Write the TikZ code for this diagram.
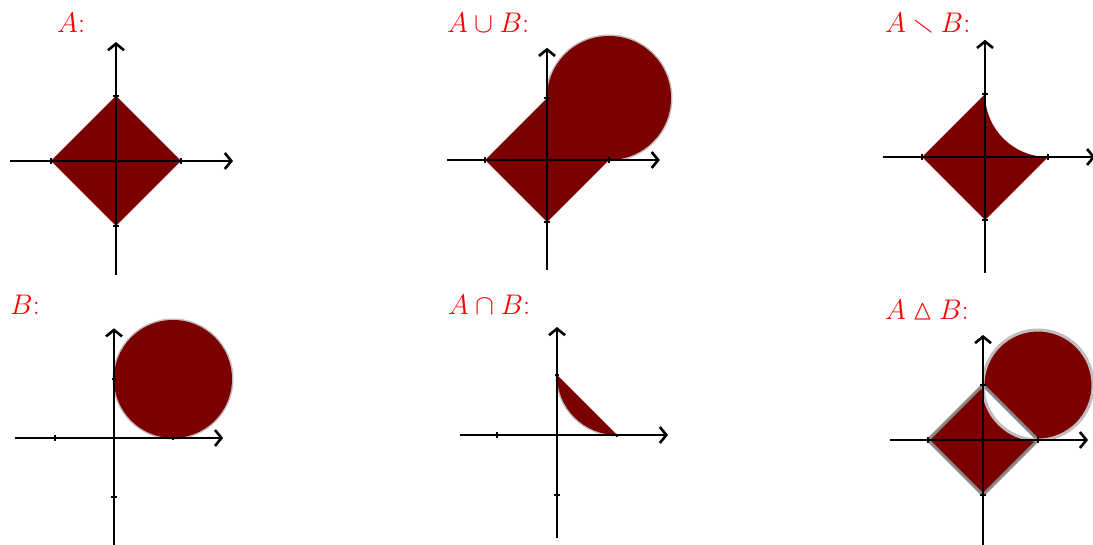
\documentclass[tikz,border=0pt]{standalone}
\usepackage{amssymb}
\usetikzlibrary{arrows.meta}
\definecolor{maroonfill}{RGB}{125,0,0}
\definecolor{rimgray}{RGB}{196,188,188}
\definecolor{edgegray}{RGB}{135,135,135}
\tikzset{
  axis/.style={line width=2.6pt, -{Straight Barb[length=6.5pt,width=16pt]}},
  tickmark/.style={line width=2.6pt},
  setlabel/.style={text=red, anchor=base west, inner sep=0pt, font=\fontsize{24.88}{30}\selectfont, scale=1.14},
  region/.style={fill=maroonfill},
  rim/.style={draw=rimgray, line width=3pt},
  edge/.style={draw=edgegray, line width=3pt},
}
\begin{document}
\begin{tikzpicture}[x=1pt,y=1pt]
\useasboundingbox[fill=white] (0,0) rectangle (1093,544);

% labels
\node[setlabel] (lA)   at (57,511)  {$A$:};
\node[setlabel] (lAuB) at (447,511) {$A\cup B$:};
\node[setlabel] (lAmB) at (885,511) {$A\smallsetminus B$:};
\node[setlabel] (lB)   at (10,229)  {$B$:};
\node[setlabel] (lAnB) at (448,229) {$A\cap B$:};
\node[setlabel] (lAdB) at (885,224) {$A\mathbin{\vartriangle} B$:};

% Panel A
\begin{scope}[shift={(116,383)}, x=65pt, y=65pt]
  \fill[region] (1,0) -- (0,1) -- (-1,0) -- (0,-1) -- cycle;
  \draw[axis] (-1.63,0) -- (1.8,0);
  \draw[axis] (0,-1.75) -- (0,1.83);
  \draw[tickmark] ([yshift=-3pt]1,0) -- ([yshift=3pt]1,0);
  \draw[tickmark] ([yshift=-3pt]-1,0) -- ([yshift=3pt]-1,0);
  \draw[tickmark] ([xshift=-3pt]0,1) -- ([xshift=3pt]0,1);
  \draw[tickmark] ([xshift=-3pt]0,-1) -- ([xshift=3pt]0,-1);
\end{scope}

% Panel A union B
\begin{scope}[shift={(547,384)}, x=62pt, y=62pt]
  \draw[rim] (1,0) arc[start angle=270, end angle=540, radius=1];
  \fill[region] (-1,0) -- (0,-1) -- (1,0) arc[start angle=270, end angle=540, radius=1] -- cycle;
  \draw[axis] (-1.61,0) -- (1.82,0);
  \draw[axis] (0,-1.77) -- (0,1.81);
  \draw[tickmark] ([yshift=-3pt]1,0) -- ([yshift=3pt]1,0);
  \draw[tickmark] ([yshift=-3pt]-1,0) -- ([yshift=3pt]-1,0);
  \draw[tickmark] ([xshift=-3pt]0,1) -- ([xshift=3pt]0,1);
  \draw[tickmark] ([xshift=-3pt]0,-1) -- ([xshift=3pt]0,-1);
\end{scope}

% Panel A minus B
\begin{scope}[shift={(985,387)}, x=63pt, y=63pt]
  \fill[region] (-1,0) -- (0,-1) -- (1,0) arc[start angle=270, end angle=180, radius=1] -- cycle;
  \draw[axis] (-1.62,0) -- (1.75,0);
  \draw[axis] (0,-1.84) -- (0,1.86);
  \draw[tickmark] ([yshift=-3pt]1,0) -- ([yshift=3pt]1,0);
  \draw[tickmark] ([yshift=-3pt]-1,0) -- ([yshift=3pt]-1,0);
  \draw[tickmark] ([xshift=-3pt]0,1) -- ([xshift=3pt]0,1);
  \draw[tickmark] ([xshift=-3pt]0,-1) -- ([xshift=3pt]0,-1);
\end{scope}

% Panel B
\begin{scope}[shift={(114,106)}, x=59pt, y=59pt]
  \draw[rim] (1,1) circle[radius=1];
  \fill[region] (1,1) circle[radius=1];
  \draw[axis] (-1.68,0) -- (1.85,0);
  \draw[axis] (0,-1.85) -- (0,1.86);
  \draw[tickmark] ([yshift=-3pt]-1,0) -- ([yshift=3pt]-1,0);
  \draw[tickmark] ([xshift=-3pt]0,-1) -- ([xshift=3pt]0,-1);
  \draw[tickmark] ([xshift=-2pt]0,1) -- ([xshift=2pt]0,1);
  \draw[tickmark] ([yshift=-2pt]1,0) -- ([yshift=0pt]1,0);
\end{scope}

% Panel A intersect B
\begin{scope}[shift={(557,109)}, x=60pt, y=60pt]
  \draw[rim] (1,0) arc[start angle=270, end angle=180, radius=1];
  \fill[region] (0,1) -- (1,0) arc[start angle=270, end angle=180, radius=1] -- cycle;
  \draw[axis] (-1.62,0) -- (1.85,0);
  \draw[axis] (0,-1.72) -- (0,1.8);
  \draw[tickmark] ([yshift=-3pt]-1,0) -- ([yshift=3pt]-1,0);
  \draw[tickmark] ([xshift=-3pt]0,-1) -- ([xshift=3pt]0,-1);
  \draw[tickmark] ([xshift=-2pt]0,1) -- ([xshift=2pt]0,1);
  \draw[tickmark] ([yshift=-2pt]1,0) -- ([yshift=0pt]1,0);
\end{scope}

% Panel A symmetric difference B
\begin{scope}[shift={(983,104)}, x=55pt, y=55pt]
  \fill[region, even odd rule] (1,0) -- (0,1) -- (-1,0) -- (0,-1) -- cycle (1,1) circle[radius=1];
  \draw[edge] (1,0) -- (0,1) -- (-1,0) -- (0,-1) -- cycle;
  \draw[rim] (1,1) circle[radius=1];
  \draw[axis] (-1.69,0) -- (1.91,0);
  \draw[axis] (0,-1.9) -- (0,1.91);
  \draw[tickmark] ([yshift=-3pt]1,0) -- ([yshift=3pt]1,0);
  \draw[tickmark] ([yshift=-3pt]-1,0) -- ([yshift=3pt]-1,0);
  \draw[tickmark] ([xshift=-3pt]0,1) -- ([xshift=3pt]0,1);
  \draw[tickmark] ([xshift=-3pt]0,-1) -- ([xshift=3pt]0,-1);
\end{scope}
\end{tikzpicture}
\end{document}
